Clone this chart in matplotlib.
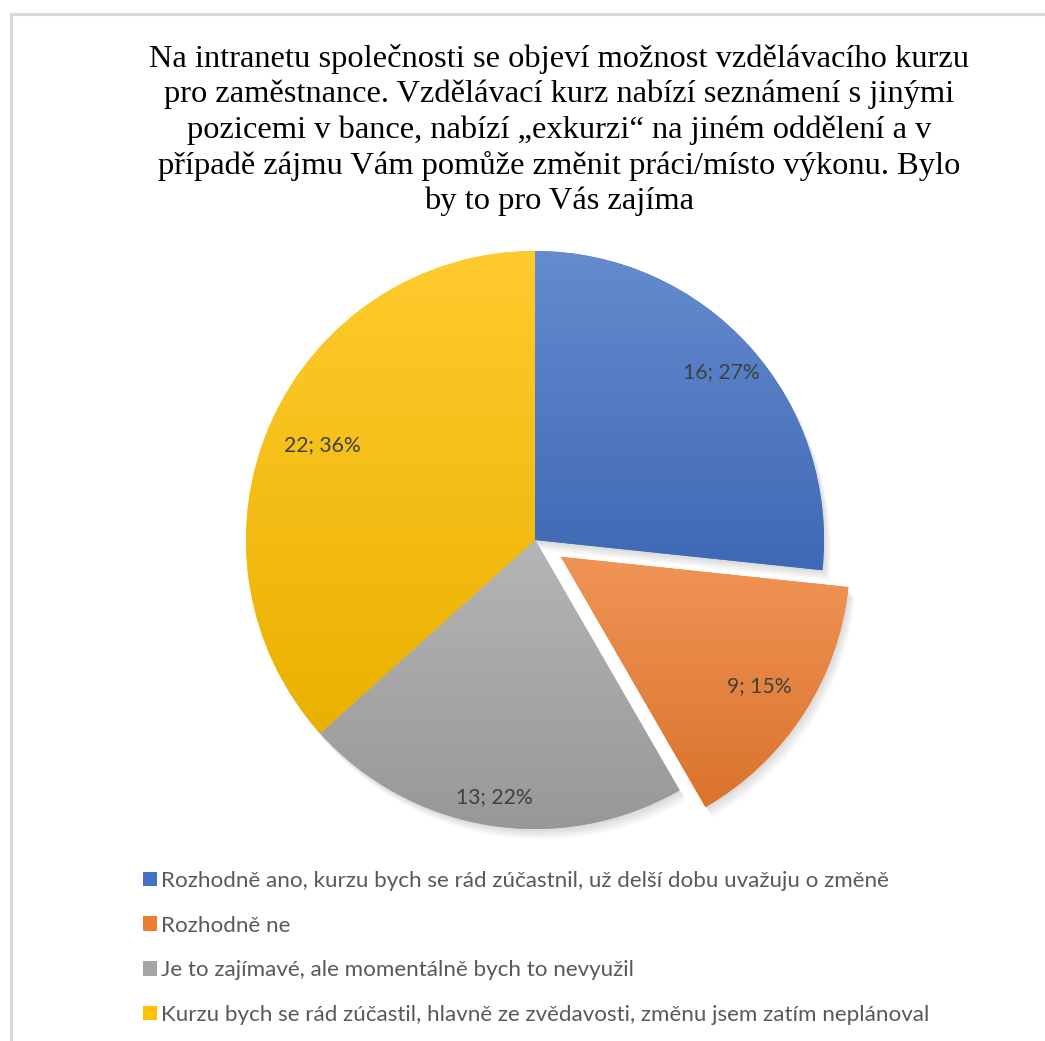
import numpy as np
import matplotlib
matplotlib.use("Agg")
import matplotlib.pyplot as plt
from matplotlib.patches import Patch, Rectangle, Wedge
from matplotlib.colors import to_rgb

# ---- data ----
categories = [
    "Rozhodně ano, kurzu bych se rád zúčastnil, už delší dobu uvažuju o změně",
    "Rozhodně ne",
    "Je to zajímavé, ale momentálně bych to nevyužil",
    "Kurzu bych se rád zúčastil, hlavně ze zvědavosti, změnu jsem zatím neplánoval",
]
values = [16, 9, 13, 22]
percents = [27, 15, 22, 36]
colors = ["#4472C4", "#ED7D31", "#A5A5A5", "#FFC000"]
explode = [0, 0.107, 0, 0]
label_dist = [0.868, 0.82, 0.90, 0.805]

title = ("Na intranetu společnosti se objeví možnost vzdělávacího kurzu\n"
         "pro zaměstnance. Vzdělávací kurz nabízí seznámení s jinými\n"
         "pozicemi v bance, nabízí \u201eexkurzi\u201c na jiném oddělení a v\n"
         "případě zájmu Vám pomůže změnit práci/místo výkonu. Bylo\n"
         "by to pro Vás zajíma")

W, H = 1045, 1041
fig = plt.figure(figsize=(W / 100, H / 100), dpi=100)
fig.patch.set_facecolor("white")

# chart-area border (top / left visible)
fig.patches.append(Rectangle((11 / W, -0.1), 1.2, 1 - 14 / H + 0.1,
                             transform=fig.transFigure, fill=False,
                             edgecolor="#d9d9d9", linewidth=2.2))

cx, cy, R = 535, 540, 289
half = 420
ax = fig.add_axes([(cx - half) / W, (H - cy - half) / H, 2 * half / W, 2 * half / H])
lim = half / R
ax.set_xlim(-lim, lim)
ax.set_ylim(-lim, lim)
ax.axis("off")

wedges, _ = ax.pie(values, colors=colors, startangle=90, counterclock=False,
                   explode=explode, radius=1.0,
                   wedgeprops=dict(linewidth=0, edgecolor="none"))

# soft shadow
for w in wedges:
    c = w.center
    for k in range(1, 7):
        sh = Wedge((c[0] + 0.004 * k, c[1] - 0.006 * k), w.r, w.theta1, w.theta2,
                   facecolor="black", alpha=0.025, linewidth=0, zorder=0.5)
        ax.add_patch(sh)


def mix(c, t, other):
    c = np.array(to_rgb(c)); o = np.array(other)
    return c * (1 - t) + o * t

# gradient fills clipped to wedges
for w, col in zip(wedges, colors):
    w.set_zorder(1)
    ext = w.get_path().get_extents()
    top = mix(col, 0.18, (1, 1, 1))
    bot = mix(col, 0.08, (0, 0, 0))
    n = 256
    t = np.linspace(0, 1, n)[:, None]
    grad = top[None, :] * (1 - t) + bot[None, :] * t
    img = np.repeat(grad[:, None, :], 2, axis=1)
    im = ax.imshow(img, extent=(ext.x0, ext.x1, ext.y0, ext.y1), origin="upper",
                   aspect="auto", zorder=2, interpolation="bilinear")
    im.set_clip_path(w)

# labels
for w, v, p, d in zip(wedges, values, percents, label_dist):
    ang = np.deg2rad((w.theta1 + w.theta2) / 2)
    x = w.center[0] + d * np.cos(ang)
    y = w.center[1] + d * np.sin(ang)
    ax.text(x, y, f"{v}; {p}%", ha="center", va="center", fontsize=15.2,
            color="#404040", family="Lato", zorder=5)

ax.set_xlim(-lim, lim)
ax.set_ylim(-lim, lim)

fig.text(559 / W, 1 - 44 / H, title, ha="center", va="top", family="Liberation Serif",
         fontsize=23.4, color="black", linespacing=1.26)

handles = [Patch(facecolor=c, edgecolor="none") for c in colors]
fig.legend(handles, categories, loc="upper left", bbox_to_anchor=(143 / W, 1 - 871 / H),
           frameon=False, prop={"family": "Lato", "size": 16.1}, labelcolor="#595959",
           handlelength=0.62, handleheight=0.62, handletextpad=0.2, labelspacing=1.1,
           borderaxespad=0, borderpad=0)

fig.savefig("out.png", dpi=100, facecolor="white")
